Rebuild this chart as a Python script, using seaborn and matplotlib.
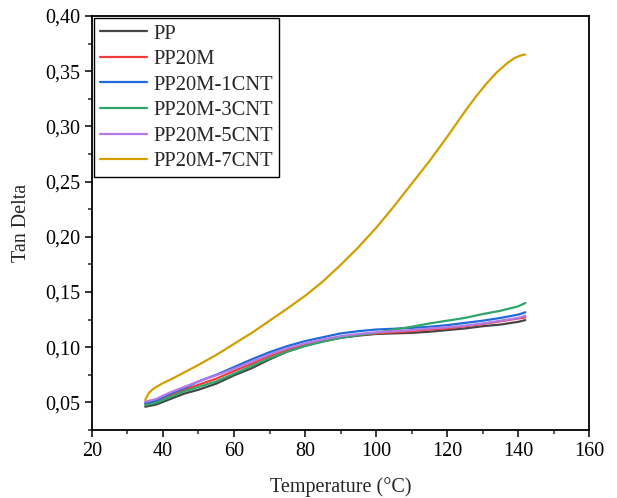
import numpy as np
import pandas as pd
import seaborn as sns
import matplotlib.pyplot as plt
from matplotlib.ticker import MultipleLocator, FuncFormatter

# temperature grid (°C) and tan delta curves
temp = [35, 38, 42, 46, 50, 55, 60, 65, 70, 75, 80, 85, 90, 95, 100,
        105, 110, 115, 120, 125, 130, 135, 140, 142]

pp = [0.0461, 0.0480, 0.0530, 0.0580, 0.0615, 0.0670, 0.0745, 0.0810, 0.0890, 0.0960,
      0.1015, 0.1055, 0.1085, 0.1105, 0.1120, 0.1125, 0.1130, 0.1140, 0.1155, 0.1170,
      0.1190, 0.1205, 0.1230, 0.1245]
pp20m = [0.0490, 0.0510, 0.0565, 0.0615, 0.0660, 0.0715, 0.0785, 0.0850, 0.0920, 0.0975,
         0.1020, 0.1060, 0.1090, 0.1110, 0.1125, 0.1135, 0.1145, 0.1160, 0.1170, 0.1190,
         0.1210, 0.1235, 0.1260, 0.1270]
cnt1 = [0.0492, 0.0515, 0.0580, 0.0630, 0.0690, 0.0750, 0.0820, 0.0890, 0.0955, 0.1010,
        0.1055, 0.1090, 0.1125, 0.1145, 0.1160, 0.1167, 0.1175, 0.1185, 0.1200, 0.1220,
        0.1240, 0.1265, 0.1295, 0.1316]
cnt3 = [0.0476, 0.0495, 0.0550, 0.0600, 0.0640, 0.0690, 0.0760, 0.0830, 0.0900, 0.0960,
        0.1010, 0.1050, 0.1085, 0.1110, 0.1130, 0.1160, 0.1185, 0.1215, 0.1240, 0.1265,
        0.1300, 0.1330, 0.1370, 0.1400]
cnt5 = [0.0506, 0.0530, 0.0590, 0.0640, 0.0690, 0.0745, 0.0805, 0.0870, 0.0935, 0.0990,
        0.1035, 0.1070, 0.1100, 0.1120, 0.1135, 0.1145, 0.1155, 0.1170, 0.1180, 0.1195,
        0.1215, 0.1240, 0.1265, 0.1285]

# the 7CNT curve bends more, so it was read at more temperatures
temp_7 = [35, 36, 37, 38, 40, 42, 45, 50, 55, 60, 65, 70, 75, 80, 85, 90, 95, 100,
          105, 110, 115, 120, 125, 128, 131, 134, 137, 139, 141, 142]
cnt7 = [0.0522, 0.0585, 0.0615, 0.0638, 0.0675, 0.0705, 0.0755, 0.0840, 0.0930, 0.1030,
        0.1130, 0.1240, 0.1350, 0.1465, 0.1595, 0.1745, 0.1905, 0.2080, 0.2275, 0.2480,
        0.2685, 0.2905, 0.3135, 0.3265, 0.3385, 0.3490, 0.3575, 0.3620, 0.3645, 0.3650]

labels = ["PP", "PP20M", "PP20M-1CNT", "PP20M-3CNT", "PP20M-5CNT", "PP20M-7CNT"]
colors = ["#454545", "#F03C3C", "#1F6AD8", "#2FA56A", "#B47AE6", "#D49E00"]


def main():
    sns.set_style("ticks")
    plt.rcParams["font.family"] = ["Liberation Serif", "DejaVu Serif"]

    fig = plt.figure(figsize=(6.17, 4.98), dpi=100)
    ax = fig.add_axes([0.149, 0.1365, 0.806, 0.8315])

    xs = [temp, temp, temp, temp, temp, temp_7]
    series = [pp, pp20m, cnt1, cnt3, cnt5, cnt7]
    for x, vals, lab, col in zip(xs, series, labels, colors):
        df = pd.DataFrame({"T": x, "tan": vals})
        sns.lineplot(data=df, x="T", y="tan", ax=ax, color=col, lw=1.6, label=lab)

    ax.set_xlim(20, 160)
    ax.set_ylim(0.025, 0.40)
    ax.xaxis.set_major_locator(MultipleLocator(20))
    ax.xaxis.set_minor_locator(MultipleLocator(10))
    ax.yaxis.set_major_locator(MultipleLocator(0.05))
    ax.yaxis.set_minor_locator(MultipleLocator(0.025))
    ax.yaxis.set_major_formatter(FuncFormatter(lambda v, p: f"{v:.2f}".replace(".", ",")))

    ax.tick_params(which="major", direction="out", length=5, width=1.1, labelsize=14.5,
                   colors="black")
    ax.tick_params(which="minor", direction="out", length=2.8, width=1.1)
    for s in ax.spines.values():
        s.set_linewidth(1.3)
        s.set_color("black")

    ax.set_xlabel("Temperature (°C)", fontsize=14.5, labelpad=12)
    ax.set_ylabel("Tan Delta", fontsize=14.5, labelpad=10)

    leg = ax.legend(loc="upper left", fontsize=14.8, frameon=True, fancybox=False,
                    edgecolor="black", borderaxespad=0.1, handlelength=2.3,
                    labelspacing=0.3, handletextpad=0.3, borderpad=0.3)
    leg.get_frame().set_linewidth(1.0)
    leg.get_frame().set_alpha(1)

    fig.savefig("out.png", dpi=100)


if __name__ == "__main__":
    main()
